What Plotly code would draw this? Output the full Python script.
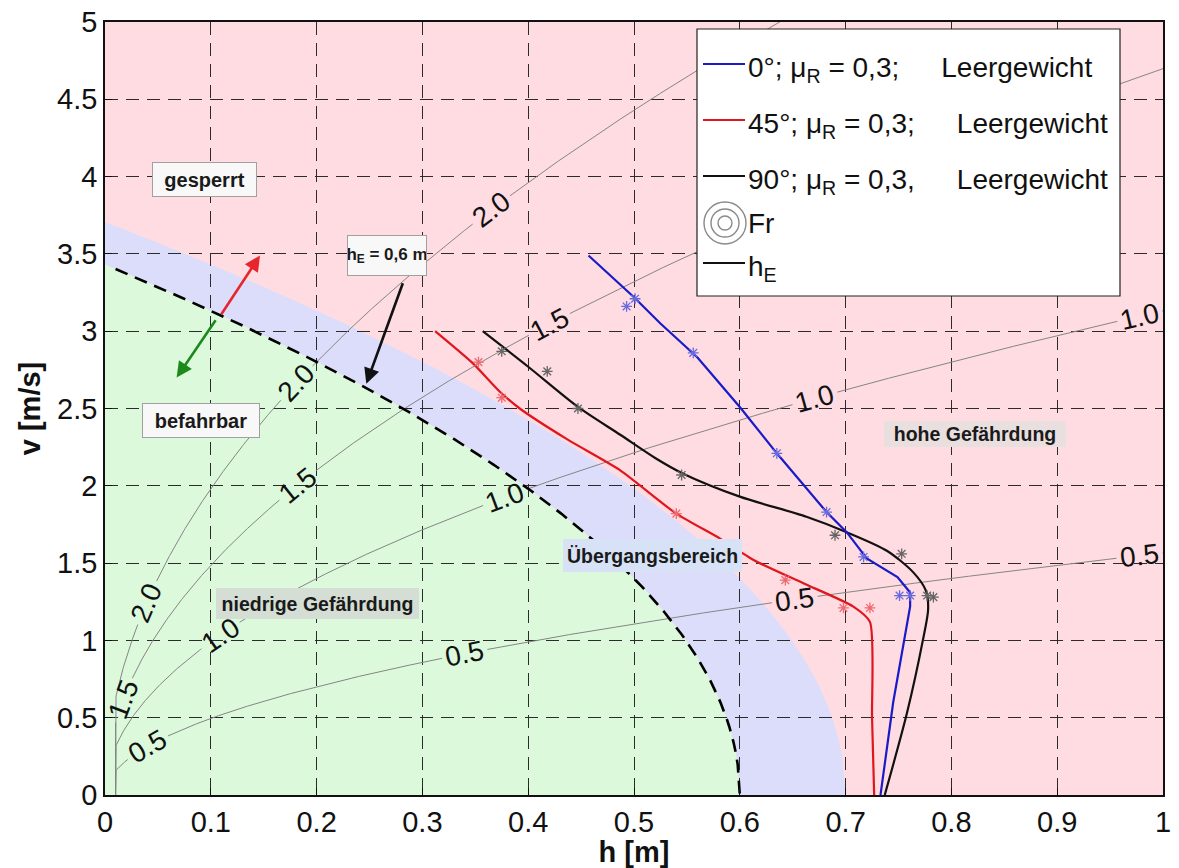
import numpy as np
import plotly.graph_objects as go

G = 9.81

# ---------------- data ----------------
blue_h = [0.457, 0.500, 0.525, 0.560, 0.600, 0.635, 0.682, 0.701, 0.720, 0.749, 0.761, 0.761, 0.745, 0.733]
blue_v = [3.49, 3.22, 3.05, 2.83, 2.51, 2.21, 1.83, 1.70, 1.53, 1.41, 1.31, 1.22, 0.60, 0.00]
red_h = [0.312, 0.348, 0.373, 0.392, 0.437, 0.487, 0.540, 0.581, 0.613, 0.660, 0.707, 0.723, 0.725, 0.727]
red_v = [3.00, 2.79, 2.61, 2.50, 2.30, 2.10, 1.82, 1.66, 1.52, 1.37, 1.22, 1.12, 0.50, 0.00]
black_h = [0.357, 0.400, 0.447, 0.487, 0.520, 0.546, 0.600, 0.663, 0.701, 0.739, 0.764, 0.776, 0.778, 0.773, 0.758, 0.737]
black_v = [3.00, 2.77, 2.51, 2.33, 2.18, 2.08, 1.93, 1.80, 1.70, 1.58, 1.44, 1.32, 1.20, 1.00, 0.53, 0.00]

blue_star_h = [0.493, 0.501, 0.556, 0.635, 0.682, 0.717, 0.751, 0.761]
blue_star_v = [3.16, 3.21, 2.86, 2.21, 1.83, 1.54, 1.29, 1.29]
red_star_h = [0.353, 0.375, 0.540, 0.643, 0.698, 0.723]
red_star_v = [2.80, 2.57, 1.82, 1.39, 1.21, 1.21]
black_star_h = [0.375, 0.418, 0.447, 0.545, 0.690, 0.753, 0.777, 0.783]
black_star_v = [2.87, 2.74, 2.50, 2.07, 1.68, 1.56, 1.29, 1.28]

froude_values = [0.5, 1.0, 1.5, 2.0]
froude_label_h = [
    [0.040, 0.340, 0.652, 0.978],
    [0.109, 0.378, 0.671, 0.978],
    [0.0173, 0.182, 0.420],
    [0.0394, 0.181, 0.365],
]
h_min = 0.01
he_limit = 0.6      # dashed energy height line
he_upper = 0.7      # upper bound of transition band

GAP = "\u2003\u2002"
legend_labels = [
    f"0°; μ<sub>R</sub> = 0,3;{GAP}Leergewicht",
    f"45°; μ<sub>R</sub> = 0,3;{GAP}Leergewicht",
    f"90°; μ<sub>R</sub> = 0,3,{GAP}Leergewicht",
    "Fr",
    "h<sub>E</sub>",
]

x_ticks = [round(0.1 * i, 1) for i in range(11)]
y_ticks = [0.5 * i for i in range(11)]

# ---------------- styling / geometry ----------------
W, H = 1179, 868
ML, MR, MT, MB = 105, 16, 22, 73
PW = W - ML - MR
PH = H - MT - MB
XMAX, YMAX = 1.0, 5.0
FONT = "Liberation Sans, Arial, sans-serif"

PINK = "#FEDCE1"
GREEN = "#DCF9DC"
BLUE = "#DCDDFB"


def to_px(h, v):
    return np.asarray(h) / XMAX * PW, np.asarray(v) / YMAX * PH


fig = go.Figure()

# ---------------- background regions (below the grid) ----------------
hh_low = np.linspace(0, he_limit, 200)
vv_low = np.sqrt(np.maximum(2 * G * (he_limit - hh_low), 0))
hh_up = np.linspace(0, he_upper, 200)
vv_up = np.sqrt(np.maximum(2 * G * (he_upper - hh_up), 0))


def path_from(xs, ys):
    pts = " L ".join(f"{x:.5f},{y:.5f}" for x, y in zip(xs, ys))
    return "M " + pts + " Z"


green_x = [0.0] + list(hh_low)
green_y = [0.0] + list(vv_low)
blue_x = list(hh_up) + list(hh_low[::-1])
blue_y = list(vv_up) + list(vv_low[::-1])

shapes = [
    dict(type="path", path=path_from(blue_x, blue_y), xref="x", yref="y",
         fillcolor=BLUE, line=dict(width=0), layer="below"),
    dict(type="path", path=path_from(green_x, green_y), xref="x", yref="y",
         fillcolor=GREEN, line=dict(width=0), layer="below"),
]

annotations = []

# ---------------- Froude lines with inline labels ----------------
h_line = np.concatenate([[h_min], np.linspace(h_min, 1.0, 2500)])
for fr, lab_hs in zip(froude_values, froude_label_h):
    v_line = fr * np.sqrt(G * h_line)
    v_line[0] = 0.0
    px, py = to_px(h_line, v_line)
    keep = np.ones(len(h_line), bool)
    for lh in lab_hs:
        lv = fr * np.sqrt(G * lh)
        lx, ly = to_px(lh, lv)
        keep &= np.hypot(px - lx, py - ly) > 23
        slope = fr * np.sqrt(G) / (2 * np.sqrt(lh))
        ang = np.degrees(np.arctan(slope * (PH / YMAX) / (PW / XMAX)))
        annotations.append(dict(
            x=lh, y=lv, xref="x", yref="y", text=f"{fr:.1f}", showarrow=False,
            textangle=-ang, font=dict(family=FONT, size=28, color="#111111"),
            xanchor="center", yanchor="middle"))
    xs = [float(a) if k else None for a, k in zip(h_line, keep)]
    ys = [float(b) if k else None for b, k in zip(v_line, keep)]
    fig.add_trace(go.Scatter(x=xs, y=ys, mode="lines", connectgaps=False,
                             line=dict(color="#858585", width=1), hoverinfo="skip",
                             showlegend=False))

# ---------------- dashed h_E line ----------------
hh_dash = np.linspace(h_min, he_limit, 300)
vv_dash = np.sqrt(np.maximum(2 * G * (he_limit - hh_dash), 0))
fig.add_trace(go.Scatter(x=hh_dash, y=vv_dash, mode="lines",
                         line=dict(color="black", width=2.6, dash="13px,8px"),
                         showlegend=False))

# ---------------- measured curves ----------------
fig.add_trace(go.Scatter(x=red_h, y=red_v, mode="lines", line_shape="spline",
                         line=dict(color="#E0161E", width=2.2, smoothing=0.6), showlegend=False))
fig.add_trace(go.Scatter(x=black_h, y=black_v, mode="lines", line_shape="spline",
                         line=dict(color="#111111", width=2.2, smoothing=0.8), showlegend=False))
fig.add_trace(go.Scatter(x=blue_h, y=blue_v, mode="lines",
                         line=dict(color="#1A1AC8", width=2.2), showlegend=False))

for sh, sv, col in [(blue_star_h, blue_star_v, "#6A6AE0"),
                    (red_star_h, red_star_v, "#EE6A70"),
                    (black_star_h, black_star_v, "#666666")]:
    fig.add_trace(go.Scatter(x=sh, y=sv, mode="markers",
                             marker=dict(symbol="asterisk-open", size=9, color=col,
                                         line=dict(color=col, width=1.3)),
                             showlegend=False))

# ---------------- text boxes ----------------
boxes = [
    ("<b>gesperrt</b>", 0.0940, 3.981, 105, 35, "#F8F8F8", "#A0A0A0", 20),
    ("<b>befahrbar</b>", 0.0907, 2.422, 118, 35, "#F8F8F8", "#A0A0A0", 20),
    ("<b>h<sub>E</sub> = 0,6 m</b>", 0.2665, 3.490, 80, 41, "#F8F8F8", "#A0A0A0", 17),
    ("<b>hohe Gefährdung</b>", 0.8223, 2.335, 184, 28, "#EADFDF", None, 19.5),
    ("<b>Übergangsbereich</b>", 0.5175, 1.549, 181, 35, "#D8E2F6", None, 19.5),
    ("<b>niedrige Gefährdung</b>", 0.2008, 1.239, 205, 33, "#D4DED4", None, 19.5),
]
for txt, bx, by, bw, bh, bg, bc, fs in boxes:
    annotations.append(dict(
        x=bx, y=by, xref="x", yref="y", text=txt, showarrow=False,
        width=bw - 2, height=bh - 2, bgcolor=bg,
        bordercolor=bc if bc else bg, borderwidth=1 if bc else 0, borderpad=0,
        font=dict(family=FONT, size=fs, color="#1a1a1a"),
        xanchor="center", yanchor="middle", align="center", valign="middle"))

# ---------------- arrows ----------------
arrows = [
    # head (x,y), tail (ax,ay), colour
    (0.1465, 3.49, 0.109, 3.10, "#E8242C"),
    (0.0677, 2.70, 0.1055, 3.08, "#1B8A1B"),
    (0.247, 2.66, 0.282, 3.32, "#111111"),
]
for x, y, ax, ay, col in arrows:
    annotations.append(dict(
        x=x, y=y, ax=ax, ay=ay, xref="x", yref="y", axref="x", ayref="y",
        text="", showarrow=True, arrowhead=2, arrowsize=1.2, arrowwidth=2.6,
        arrowcolor=col, standoff=0, startstandoff=0))

# ---------------- legend (drawn manually) ----------------
def v_of(py):
    return (795 - py) / PH * YMAX


def h_of(px):
    return (px - ML) / PW * XMAX


shapes.append(dict(type="rect", xref="x", yref="y", x0=h_of(697), x1=h_of(1120),
                   y0=v_of(296), y1=v_of(29), fillcolor="white",
                   line=dict(color="#222222", width=1.2), layer="above"))

entry_py = [64, 120, 176, 223, 263]
line_cols = ["#1A1AC8", "#E0161E", "#111111", None, "#111111"]
for lab, py, col in zip(legend_labels, entry_py, line_cols):
    if col:
        shapes.append(dict(type="line", xref="x", yref="y", x0=h_of(703), x1=h_of(745),
                           y0=v_of(py), y1=v_of(py), line=dict(color=col, width=2),
                           layer="above"))
    sub = "<sub>" in lab
    annotations.append(dict(
        x=h_of(746), y=v_of(py), xref="x", yref="y", text=lab, showarrow=False,
        xanchor="left", yanchor="middle", yshift=(-5 if sub else 0),
        font=dict(family=FONT, size=28, color="#111111")))

cx, cy = h_of(725), v_of(223)
for r in [21, 14, 7]:
    shapes.append(dict(type="circle", xref="x", yref="y", xsizemode="pixel", ysizemode="pixel",
                       xanchor=cx, yanchor=cy, x0=-r, x1=r, y0=-r, y1=r,
                       line=dict(color="#8a8a8a", width=1.4), layer="above"))

# ---------------- layout ----------------
axis_common = dict(
    showgrid=True, gridcolor="#2b2b2b", gridwidth=1.2, griddash="13px,8px",
    showline=True, linecolor="#111111", linewidth=1.5, mirror=True,
    ticks="inside", ticklen=7, tickcolor="#111111", zeroline=False,
    tickfont=dict(family=FONT, size=29, color="#111111"), automargin=False,
)
fig.update_layout(
    width=W, height=H,
    margin=dict(l=ML, r=MR, t=MT, b=MB),
    paper_bgcolor="white", plot_bgcolor=PINK,
    shapes=shapes, annotations=annotations, showlegend=False,
    xaxis=dict(range=[0, XMAX], tickvals=x_ticks, ticktext=[f"{t:g}" for t in x_ticks],
               title=dict(text="<b>h [m]</b>", standoff=4,
                          font=dict(family=FONT, size=29, color="#111111")),
               **axis_common),
    yaxis=dict(range=[0, YMAX], tickvals=y_ticks, ticktext=[f"{t:g}" for t in y_ticks],
               title=dict(text="<b>v [m/s]</b>", standoff=8,
                          font=dict(family=FONT, size=29, color="#111111")),
               **axis_common),
)

fig.write_html("out.html")
